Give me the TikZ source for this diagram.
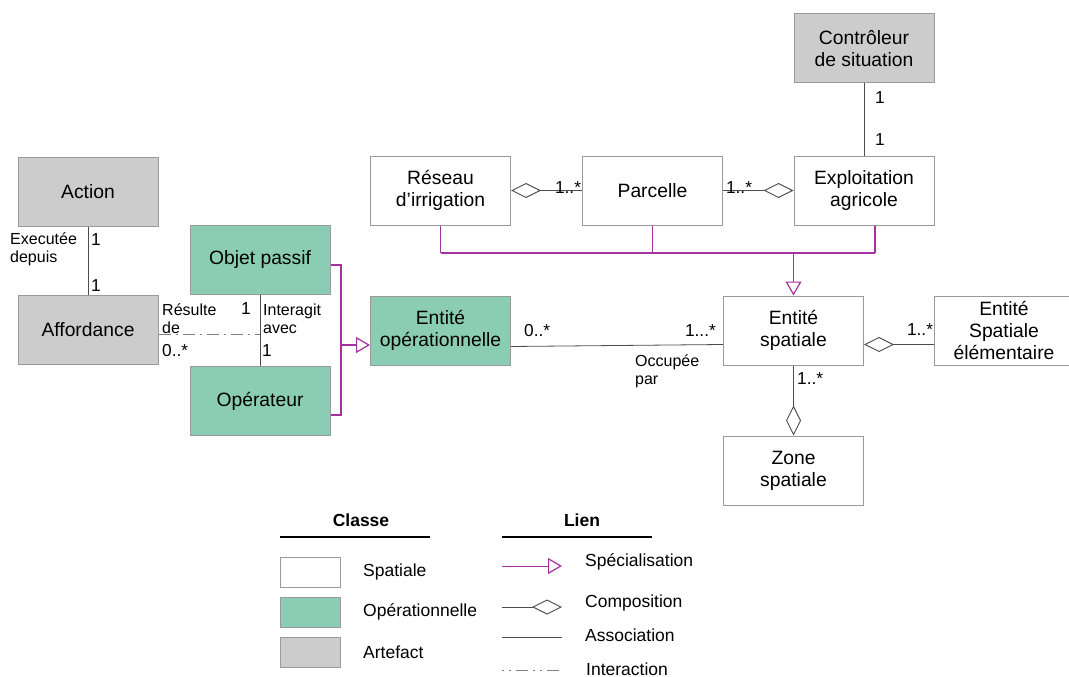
\documentclass[tikz,border=0pt]{standalone}
\usepackage{fontspec}
\setmainfont{Liberation Sans}
\usetikzlibrary{positioning,arrows.meta}
\definecolor{opGreen}{HTML}{8ACDB4}
\definecolor{artGray}{HTML}{CCCCCC}
\definecolor{specPurple}{HTML}{A3329E}
\definecolor{boxLine}{HTML}{9A9A9A}
\definecolor{linkGray}{HTML}{4D4D4D}

\begin{document}
\begin{tikzpicture}[x=1pt, y=-1pt,
          cls/.style={draw=boxLine, line width=1pt, minimum width=140pt, minimum height=69pt, inner sep=2pt, align=center, font=\fontsize{19.3}{22}\selectfont},
          spatial/.style={cls, fill=white},
          oper/.style={cls, fill=opGreen},
          artef/.style={cls, fill=artGray},
          spec/.style={specPurple, line width=1.6pt},
          specend/.style={spec, -{Triangle[open, length=14pt, width=16pt, line width=1.2pt]}},
          assoc/.style={linkGray, line width=0.8pt},
          compo/.style={assoc, {Diamond[open, length=30pt, width=15pt, line width=0.9pt]}-},
          inter/.style={gray, line width=0.8pt, dash pattern=on 12pt off 5pt on 2pt off 5pt},
          mult/.style={font=\fontsize{17.3}{19}\selectfont, inner sep=0pt},
          role/.style={font=\fontsize{16}{18}\selectfont, align=left, inner sep=0pt},
          legbox/.style={draw=boxLine, line width=1pt, minimum width=60pt, minimum height=30pt},
          legtxt/.style={anchor=west, font=\fontsize{17.5}{20}\selectfont, inner sep=0pt}]
        \useasboundingbox (0,0) rectangle (1069,677);
        % classes
        \node[artef] (ctrl) at (864,48.5) {Contrôleur\\de situation};
        \node[artef] (act) at (88,191.5) {Action};
        \node[artef] (aff) at (88,330) {Affordance};
        \node[oper] (obj) at (260,260) {Objet passif};
        \node[oper] (ope) at (260,401) {Opérateur};
        \node[oper] (eop) at (440.5,330.5) {Entité\\opérationnelle};
        \node[spatial] (res) at (440.5,190.5) {Réseau\\d’irrigation};
        \node[spatial] (parc) at (652.5,190.5) {Parcelle};
        \node[spatial] (expl) at (864,190.5) {Exploitation\\agricole};
        \node[spatial] (es) at (793.5,330.5) {Entité\\spatiale};
        \node[spatial] (ese) at (1004,330.5) {Entité\\Spatiale\\élémentaire};
        \node[spatial] (zone) at (793.5,470.5) {Zone\\spatiale};
        \coordinate (junc) at (341,345);
        \coordinate (sjoin) at (793.5,253);
        \coordinate (mid) at (260,334);

        % associations
        \draw[assoc] (ctrl) -- (expl);
        \node[mult] at (880,98) {1};
        \node[mult] at (880,140) {1};
        \draw[assoc] (act) -- (aff);
        \node[mult] at (96,240) {1};
        \node[mult] at (96,286) {1};
        \node[role, anchor=west] at (10,249) {Executée\\depuis};
        \draw[assoc] (obj) -- (ope);
        \draw[inter] ([yshift=-4pt]aff.east) -- (mid);
        \node[role, anchor=west] at (162,319) {Résulte\\de};
        \node[mult] at (246,309) {1};
        \node[mult, anchor=west] at (162,351) {0..*};
        \node[role, anchor=west] at (263,319) {Interagit\\avec};
        \node[mult, anchor=west] at (262,351) {1};
        \draw[assoc] ([yshift=-16pt]eop.east) -- ([yshift=-14pt]es.west);
        \node[mult, anchor=west] at (524,331) {0..*};
        \node[mult, anchor=east] at (716,331) {1...*};
        \node[role, anchor=west] at (635,371) {Occupée\\par};

        % compositions
        \draw[compo] (res) -- (parc);
        \node[mult] at (568,188) {1..*};
        \draw[compo] (expl) -- (parc);
        \node[mult] at (739,188) {1..*};
        \draw[compo] ([yshift=-14pt]es.east) -- ([yshift=-14pt]ese.west);
        \node[mult] at (920,330) {1..*};
        \draw[compo] (zone) -- (es);
        \node[mult, anchor=west] at (797,379) {1..*};

        % specialisations
        \draw[spec] ([yshift=-5pt]obj.east) -| (junc) |- ([yshift=-14pt]ope.east);
        \draw[specend] (junc) -- (eop.west |- junc);
        \foreach \c/\dx in {res/0, parc/0, expl/11} {
          \draw[spec] ([xshift=\dx pt]\c.south) -- ([xshift=\dx pt]\c.south |- sjoin);
        }
        \draw[spec] (res.south |- sjoin) -- ([xshift=11pt]expl.south |- sjoin);
        \draw[specend] (sjoin) -- (es);

        % legend
        \node[font=\bfseries\fontsize{17.5}{20}\selectfont] (tcls) at (361,520) {Classe};
        \node[font=\bfseries\fontsize{17.5}{20}\selectfont] (tlien) at (582,520) {Lien};
        \draw[line width=1.6pt] (280,537) -- (430,537);
        \draw[line width=1.6pt] (502,537) -- (652,537);
        \foreach \y/\s/\t in {572/spatial/Spatiale, 612/oper/Opérationnelle, 652/artef/Artefact} {
          \node[legbox, \s, minimum width=60pt, minimum height=30pt] at (310,\y) {};
          \node[legtxt] at (363,\y) {\t};
        }
        \coordinate (l1a) at (502,566); \coordinate (l1b) at (562,566);
        \coordinate (l2a) at (502,607); \coordinate (l2b) at (562,607);
        \coordinate (l3a) at (502,637); \coordinate (l3b) at (562,637);
        \coordinate (l4a) at (502,670); \coordinate (l4b) at (562,670);
        \draw[specend, line width=0.8pt] (l1a) -- (l1b);
        \draw[compo] (l2b) -- (l2a);
        \draw[assoc] (l3a) -- (l3b);
        \draw[inter, dash pattern=on 2pt off 5pt on 2pt off 5pt on 12pt off 5pt] (l4a) -- (l4b);
        \node[legtxt] at (585,562) {Spécialisation};
        \node[legtxt] at (585,603) {Composition};
        \node[legtxt] at (585,635) {Association};
        \node[legtxt] at (586,669) {Interaction};
      \end{tikzpicture}
\end{document}
